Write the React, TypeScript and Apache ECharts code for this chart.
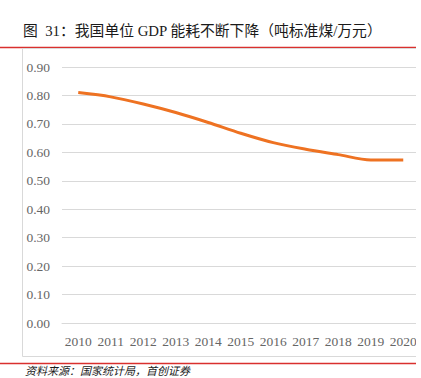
import React, { useEffect, useRef } from "react";
import * as echarts from "echarts";

const years = ["2010", "2011", "2012", "2013", "2014", "2015", "2016", "2017", "2018", "2019", "2020"];
const energyPerGdp = [0.81, 0.795, 0.77, 0.74, 0.705, 0.667, 0.634, 0.611, 0.592, 0.573, 0.573];
const yTicks = { min: 0, max: 0.9, interval: 0.1 };
const titleText = "图  31：我国单位 GDP 能耗不断下降（吨标准煤/万元）";
const sourceText = "资料来源：国家统计局，首创证券";

export default function App() {
  const ref = useRef<HTMLDivElement>(null);
  useEffect(() => {
    const chart = echarts.init(ref.current!, undefined, { renderer: "svg" });
    chart.setOption({
      animation: false,
      backgroundColor: "#ffffff",
      grid: { left: 62, top: 67, width: 357.5, height: 256, containLabel: false },
      xAxis: {
        type: "category",
        data: years,
        boundaryGap: true,
        axisLine: { show: true, lineStyle: { color: "#d9d9d9", width: 1 } },
        axisTick: { show: false },
        axisLabel: {
          color: "#666666",
          fontFamily: "Liberation Serif",
          fontSize: 13.5,
          margin: 11,
          interval: 0,
        },
      },
      yAxis: {
        type: "value",
        min: yTicks.min,
        max: yTicks.max,
        interval: yTicks.interval,
        axisLine: { show: false },
        axisTick: { show: false },
        splitLine: { lineStyle: { color: "#d9d9d9", width: 1 } },
        axisLabel: {
          color: "#666666",
          fontFamily: "Liberation Serif",
          fontSize: 13.5,
          margin: 12,
          formatter: (v: number) => v.toFixed(2),
        },
      },
      series: [
        {
          type: "line",
          data: energyPerGdp,
          smooth: 0.3,
          symbol: "none",
          lineStyle: { color: "#EE7222", width: 3 },
        },
      ],
      graphic: [
        {
          type: "text",
          left: 23,
          top: 24,
          style: {
            text: titleText,
            fill: "#1a1a1a",
            font: '14.8px "Liberation Serif", "Noto Sans CJK SC", serif',
          },
        },
        {
          type: "line",
          shape: { x1: 0, y1: 47.5, x2: 416, y2: 47.5 },
          style: { stroke: "#d9302e", lineWidth: 1.5 },
        },
        {
          type: "rect",
          shape: { x: 22.5, y: 48.5, width: 420, height: 308 },
          style: { fill: "none", stroke: "#d9d9d9", lineWidth: 1 },
        },
        {
          type: "rect",
          z: 100,
          shape: { x: 416, y: 0, width: 10, height: 378 },
          style: { fill: "#ffffff" },
        },
        {
          type: "line",
          z: 101,
          shape: { x1: 0, y1: 363.5, x2: 416, y2: 363.5 },
          style: { stroke: "#d9302e", lineWidth: 1.5 },
        },
        {
          type: "text",
          z: 101,
          left: 25,
          top: 364.5,
          style: {
            text: sourceText,
            fill: "#1a1a1a",
            font: 'italic 11px "Noto Sans CJK SC", serif',
          },
        },
      ],
    });
    return () => chart.dispose();
  }, []);
  return (
    <div
      ref={ref}
      style={{ position: "fixed", left: 0, top: 0, width: 421, height: 378 }}
    />
  );
}
